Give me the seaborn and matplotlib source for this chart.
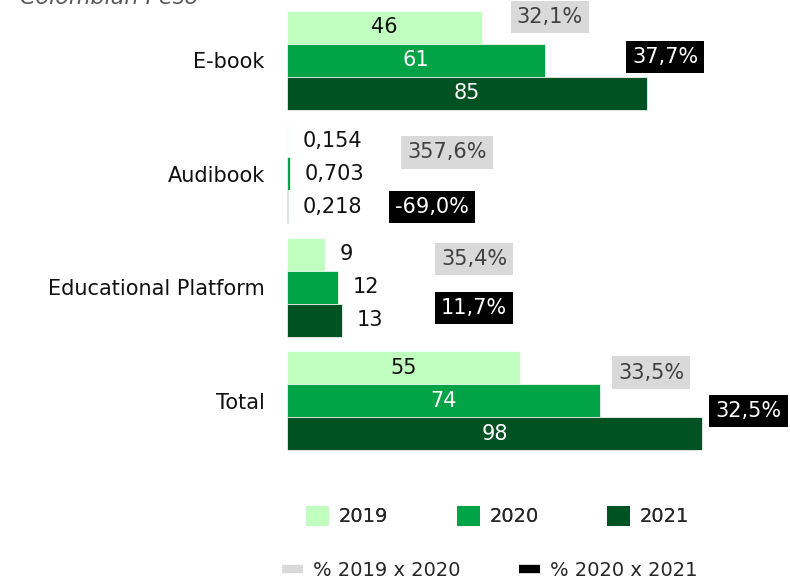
import numpy as np
import pandas as pd
import matplotlib
matplotlib.use('Agg')
import matplotlib.pyplot as plt
import seaborn as sns
from matplotlib.patches import Patch
from matplotlib.lines import Line2D

# data
categories = ['E-book', 'Audibook', 'Educational Platform', 'Total']
years = ['2019', '2020', '2021']
values_2019 = [46, 0.154, 9, 55]
values_2020 = [61, 0.703, 12, 74]
values_2021 = [85, 0.218, 13, 98]
pct_19_20 = [32.1, 357.6, 35.4, 33.5]
pct_20_21 = [37.7, -69.0, 11.7, 32.5]

# where the % labels sit (x in data units, y offset in category units)
pct1_x = [62.1, 37.8, 44.2, 86.0]
pct1_dy = [-0.38, -0.19, -0.25, -0.25]
pct2_x = [89.3, 34.2, 44.2, 109.0]
pct2_dy = [-0.03, 0.29, 0.18, 0.09]

colors = ['#C1FFC1', '#00A346', '#005222']

df = pd.DataFrame({
    'category': categories * 3,
    'year': [y for y in years for _ in categories],
    'value': values_2019 + values_2020 + values_2021,
})

sns.set_theme(style='white')
plt.rcParams['font.family'] = ['DejaVu Sans']

fig = plt.figure(figsize=(7.9, 5.8), dpi=100)
ax = fig.add_axes([0.3633, 0.2108, 0.6367, 0.783])

sns.barplot(data=df, y='category', x='value', hue='year', orient='h',
            palette=colors, saturation=1, width=0.872, edgecolor='white',
            linewidth=0.5, legend=False, ax=ax)

ax.set_xlim(0, 118.8)
ax.set_ylim(3.5, -0.5)
ax.set_xlabel('')
ax.set_ylabel('')
ax.set_xticks([])
ax.tick_params(axis='y', length=0, pad=16, labelsize=15, labelcolor='#111111')
sns.despine(ax=ax, left=True, bottom=True)


def fmt(v):
    if abs(v - round(v)) < 1e-9:
        return '%d' % v
    return ('%.3f' % v).replace('.', ',')


text_colors = ['#111111', 'white', 'white']
for k, cont in enumerate(ax.containers):
    for bar in cont:
        w = bar.get_width()
        yc = bar.get_y() + bar.get_height() / 2
        if w > 20:
            ax.text(w / 2, yc, fmt(w), ha='center', va='center',
                    fontsize=15, color=text_colors[k])
        else:
            ax.text(w + 3.5, yc, fmt(w), ha='left', va='center',
                    fontsize=15, color='#111111')

for i in range(len(categories)):
    s1 = ('%.1f%%' % pct_19_20[i]).replace('.', ',')
    s2 = ('%.1f%%' % pct_20_21[i]).replace('.', ',')
    ax.text(pct1_x[i], i + pct1_dy[i], s1, ha='center', va='center',
            fontsize=15, color='#404040',
            bbox=dict(boxstyle='square,pad=0.3', fc='#D9D9D9', ec='none'))
    ax.text(pct2_x[i], i + pct2_dy[i], s2, ha='center', va='center',
            fontsize=15, color='white',
            bbox=dict(boxstyle='square,pad=0.3', fc='black', ec='none'))

fig.text(0.025, 1 - 4 / 580, 'Colombian Peso', fontsize=16, style='italic',
         color='#595959', va='baseline')

h1 = [Patch(facecolor=c, edgecolor='none') for c in colors]
leg1 = fig.legend(h1, years, loc='center', bbox_to_anchor=(0.63, 0.11),
                  ncol=3, frameon=False, fontsize=14, handlelength=1.2,
                  handleheight=1.2, handletextpad=0.5, columnspacing=3.5)
fig.add_artist(leg1)
h2 = [Line2D([0], [0], color='#D9D9D9', lw=6, solid_capstyle='butt'),
      Line2D([0], [0], color='black', lw=6, solid_capstyle='butt')]
fig.legend(h2, ['% 2019 x 2020', '% 2020 x 2021'], loc='center',
           bbox_to_anchor=(0.62, 0.016), ncol=2, frameon=False, fontsize=14,
           handlelength=1.1, handletextpad=0.5, columnspacing=3.0)

fig.savefig('out.png', dpi=100)
